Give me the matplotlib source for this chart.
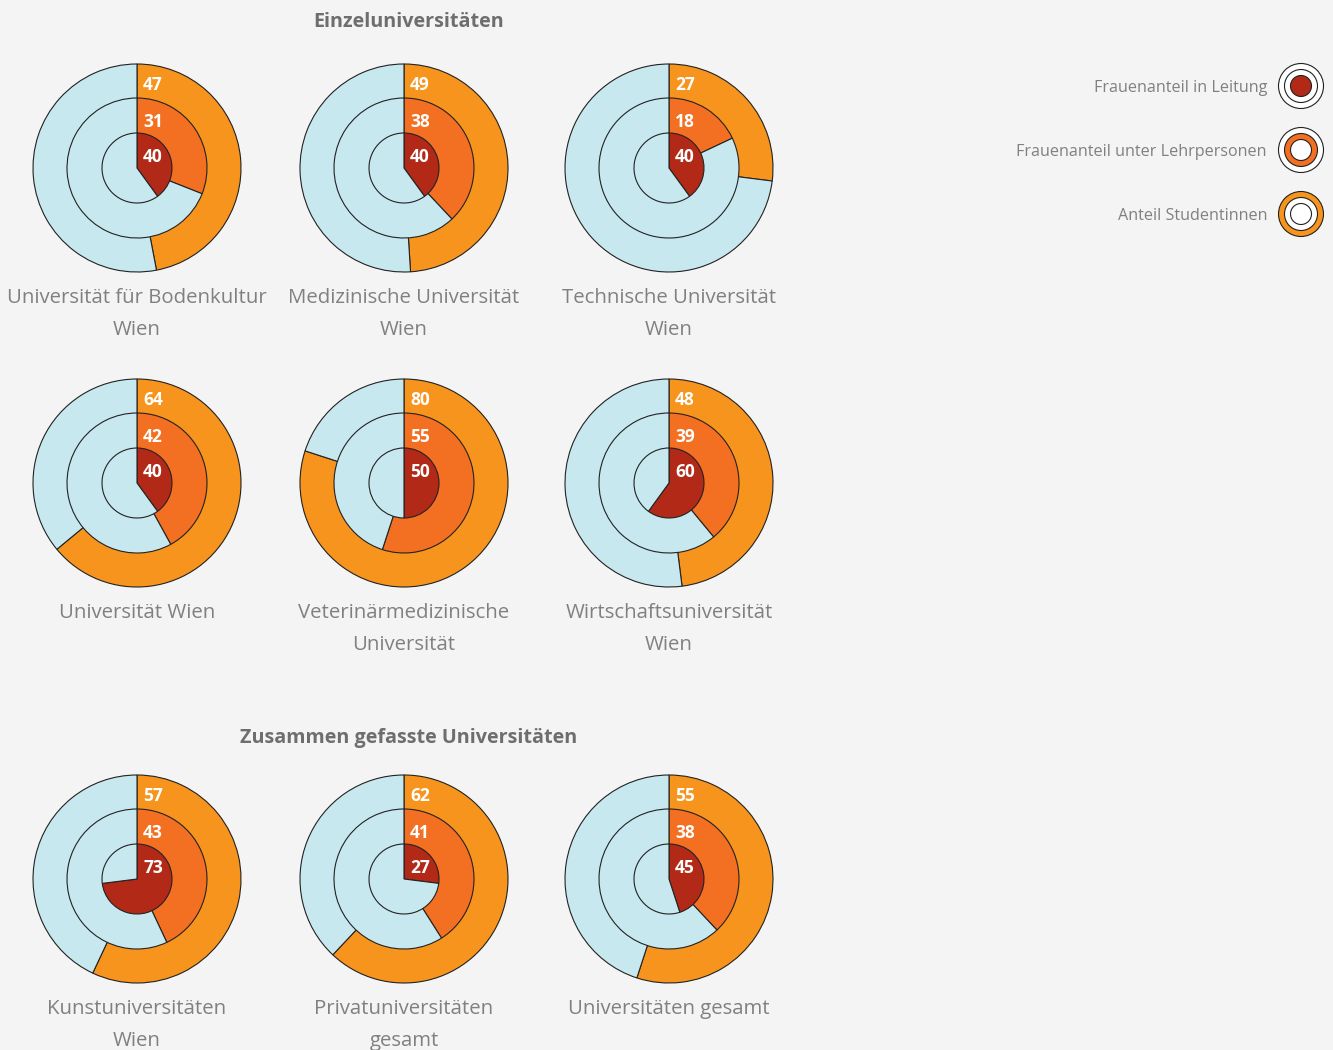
import matplotlib
matplotlib.use("Agg")
import matplotlib.pyplot as plt
from matplotlib.patches import Circle

plt.rcParams['font.family'] = ['Open Sans', 'DejaVu Sans']

# ---- data ----
names = [
    "Universität für Bodenkultur\nWien", "Medizinische Universität\nWien", "Technische Universität\nWien",
    "Universität Wien", "Veterinärmedizinische\nUniversität", "Wirtschaftsuniversität\nWien",
    "Kunstuniversitäten\nWien", "Privatuniversitäten\ngesamt", "Universitäten gesamt",
]
studentinnen = [47, 49, 27, 64, 80, 48, 57, 62, 55]
lehrpersonen = [31, 38, 18, 42, 55, 39, 43, 41, 38]
leitung = [40, 40, 40, 40, 50, 60, 73, 27, 45]
section_titles = ["Einzeluniversitäten", "Zusammen gefasste Universitäten"]
legend_labels = ["Frauenanteil in Leitung", "Frauenanteil unter Lehrpersonen", "Anteil Studentinnen"]

# ---- style ----
BG = "#F4F4F4"
C_OUT = "#F7941D"
C_MID = "#F36F21"
C_IN = "#B22A17"
C_REST = "#C8E8EF"
TXT = "#808080"
TITLE = "#6E6E6E"

W, H = 1333, 1050
fig = plt.figure(figsize=(W / 100, H / 100), dpi=100, facecolor=BG)
ax = fig.add_axes([0, 0, 1, 1])
ax.set_facecolor(BG)

def Y(y):
    return H - y

col_x = [137, 404, 669]
row_y = [168, 483, 879]
R_OUT, R_MID, R_IN = 104, 70, 35
wp = dict(edgecolor="#222222", linewidth=0.8)

for i, name in enumerate(names):
    cx = col_x[i % 3]
    cy = row_y[i // 3]
    c = (cx, Y(cy))
    for val, r, col in [(studentinnen[i], R_OUT, C_OUT), (lehrpersonen[i], R_MID, C_MID), (leitung[i], R_IN, C_IN)]:
        ax.pie([val, 100 - val], colors=[col, C_REST], radius=r, center=c,
               startangle=90, counterclock=False, wedgeprops=wp, frame=True)
    for val, dy in [(studentinnen[i], -83), (lehrpersonen[i], -46), (leitung[i], -11)]:
        ax.text(cx + 16, Y(cy + dy), str(val), color="white", fontsize=12.5, fontweight="bold",
                ha="center", va="center")
    for k, line in enumerate(name.split("\n")):
        ax.text(cx, Y(cy + 130 + 32 * k), line, color=TXT, fontsize=14.7, ha="center", va="center")

ax.text(409, Y(22), section_titles[0], color=TITLE, fontsize=14.2, fontweight="bold", ha="center", va="center")
ax.text(409, Y(738), section_titles[1], color=TITLE, fontsize=14.2, fontweight="bold", ha="center", va="center")

# legend
leg_y = [86, 150, 214]
fills = [("white", "white", C_IN), ("white", C_MID, "white"), (C_OUT, "white", "white")]
for lbl, ly, fl in zip(legend_labels, leg_y, fills):
    ax.text(1267, Y(ly + 2), lbl, color=TXT, fontsize=11.6, ha="right", va="center")
    for r, f in zip([22.5, 16.5, 10.5], fl):
        ax.add_patch(Circle((1301, Y(ly)), r, facecolor=f, edgecolor="#222222", linewidth=0.8))

ax.set_xlim(0, W)
ax.set_ylim(0, H)
ax.set_aspect("equal")
ax.axis("off")
fig.savefig("out.png", dpi=100, facecolor=BG)
